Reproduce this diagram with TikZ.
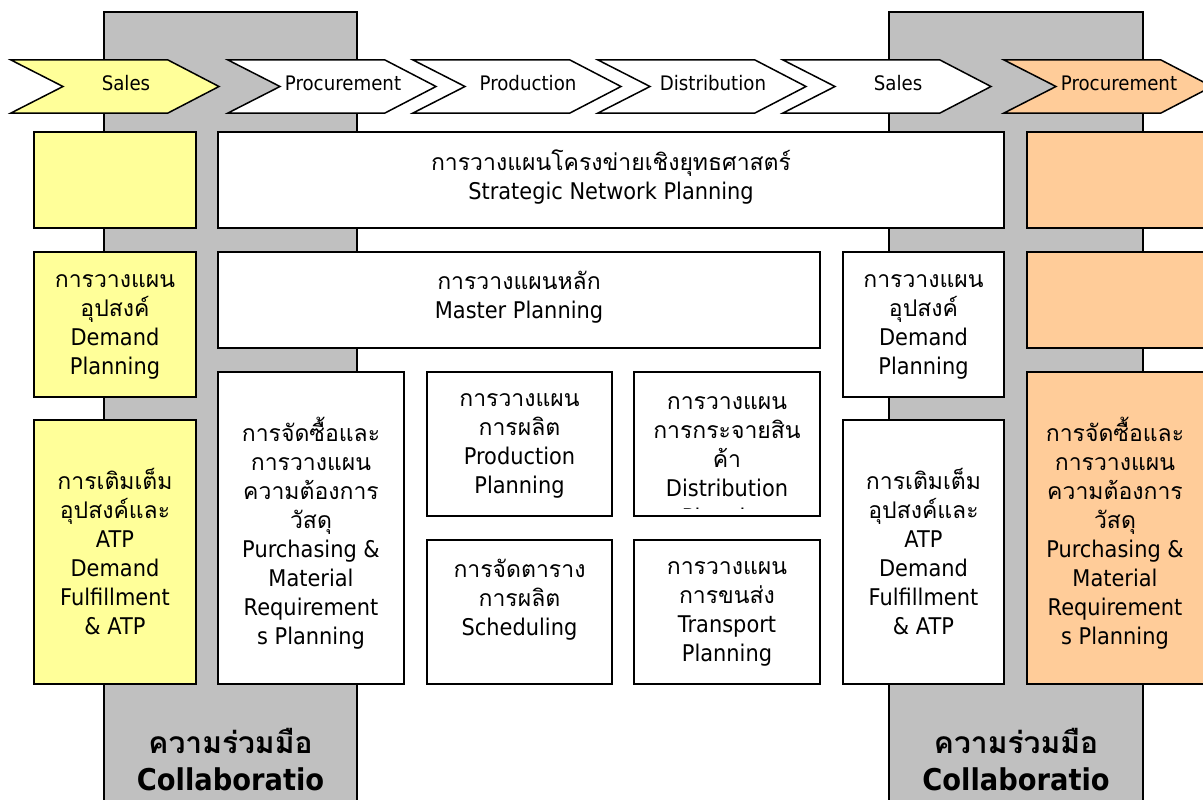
\documentclass[tikz,border=0pt]{standalone}
\usepackage{fontspec}
\setmainfont{DejaVu Sans}[FakeStretch=0.91]
\newfontfamily\thaifont[Script=Thai]{Loma}
\newcommand\thl[1]{{\thaifont #1}}
\newcommand\boxfont{\fontsize{23}{29}\selectfont\lineskiplimit=-30pt}
\newcommand\chevfont{\fontsize{20}{24}\selectfont}
\newcommand\collabfont{\fontsize{30}{37}\selectfont\bfseries\lineskiplimit=-30pt}
\definecolor{bandgray}{HTML}{C0C0C0}
\definecolor{salesyellow}{HTML}{FFFF99}
\definecolor{procorange}{HTML}{FFCC99}

% panel: name, left, top, right, bottom, fill
\newcommand\panel[6]{%
  \node[box, fill=#6, minimum width={#4-#2}, minimum height={#5-#3}] (#1) at (#2,#3) {};}
% chevron: name, left x, fill, label
\newcommand\chevron[4]{%
  \draw[chevline, fill=#3] (#2,60) -- ++(157,0) -- ++(51,26.5) -- ++(-51,26.5)
    -- ++(-157,0) -- ++(52,-26.5) -- cycle;
  \node[chevtext] (#1) at (#2+115,91) {#4};}

\begin{document}
\begin{tikzpicture}[x=1pt,y=-1pt,
  band/.style={draw=black, line width=1.5pt, fill=bandgray},
  box/.style={draw=black, line width=1.5pt, fill=white, inner sep=0pt,
    outer sep=0pt, anchor=north west},
  chevline/.style={draw=black, line width=1.5pt, line join=miter},
  chevtext/.style={font=\chevfont, anchor=base, inner sep=0pt},
  boxtext/.style={font=\boxfont, align=center, inner sep=0pt, yshift=-3pt},
  collab/.style={font=\collabfont, align=center, inner sep=0pt}]
\useasboundingbox (0,0) rectangle (1203,800);
\clip (0,0) rectangle (1203,800);
\fill[white] (0,0) rectangle (1203,800);

% collaboration bands
\draw[band] (104,12) rectangle (357,820);
\draw[band] (889,12) rectangle (1143,820);

% process chevrons
\chevron{sales1}{11}{salesyellow}{Sales}
\chevron{proc1}{228}{white}{Procurement}
\chevron{prod}{413}{white}{Production}
\chevron{dist}{598}{white}{Distribution}
\chevron{sales2}{783}{white}{Sales}
\chevron{proc2}{1004}{procorange}{Procurement}

% planning panels
\panel{ly1}{34}{132}{196}{228}{salesyellow}
\panel{snp}{218}{132}{1004}{228}{white}
\panel{ro1}{1027}{132}{1230}{228}{procorange}

\panel{ldp}{34}{252}{196}{397}{salesyellow}
\panel{mp}{218}{252}{820}{348}{white}
\panel{rdp}{843}{252}{1004}{397}{white}
\panel{ro2}{1027}{252}{1230}{348}{procorange}

\panel{ldf}{34}{420}{196}{684}{salesyellow}
\panel{pmr}{218}{372}{404}{684}{white}
\panel{pp}{427}{372}{612}{516}{white}
\panel{dp}{634}{372}{820}{516}{white}
\panel{sch}{427}{540}{612}{684}{white}
\panel{tp}{634}{540}{820}{684}{white}
\panel{rdf}{843}{420}{1004}{684}{white}
\panel{rpm}{1027}{372}{1230}{684}{procorange}

% panel texts
\node[boxtext] (snpt) at (611,174) {\thl{การวางแผนโครงข่ายเชิงยุทธศาสตร์}\\Strategic Network Planning};
\node[boxtext] (mpt) at (519,294) {\thl{การวางแผนหลัก}\\Master Planning};
\node[boxtext] (ldpt) at (115,324) {\thl{การวางแผน}\\\thl{อุปสงค์}\\Demand\\Planning};
\node[boxtext] (rdpt) at (923.5,324) {\thl{การวางแผน}\\\thl{อุปสงค์}\\Demand\\Planning};
\node[boxtext] (ldft) at (115,549) {\thl{การเติมเต็ม}\\\thl{อุปสงค์และ}\\ATP\\Demand\\Fulfillment\\\& ATP};
\node[boxtext] (rdft) at (923.5,549) {\thl{การเติมเต็ม}\\\thl{อุปสงค์และ}\\ATP\\Demand\\Fulfillment\\\& ATP};
\node[boxtext] (pmrt) at (311,530) {\thl{การจัดซื้อและ}\\\thl{การวางแผน}\\\thl{ความต้องการ}\\\thl{วัสดุ}\\Purchasing \&\\Material\\Requirement\\s Planning};
\node[boxtext] (rpmt) at (1115,530) {\thl{การจัดซื้อและ}\\\thl{การวางแผน}\\\thl{ความต้องการ}\\\thl{วัสดุ}\\Purchasing \&\\Material\\Requirement\\s Planning};
\node[boxtext] (ppt) at (519.5,443) {\thl{การวางแผน}\\\thl{การผลิต}\\Production\\Planning};
\begin{scope}
  \clip (634,372) rectangle (820,508);
  \node[boxtext] (dpt) at (727,460) {\thl{การวางแผน}\\\thl{การกระจายสิน}\\\thl{ค้า}\\Distribution\\Planning};
\end{scope}
\node[boxtext] (scht) at (519.5,597) {\thl{การจัดตาราง}\\\thl{การผลิต}\\Scheduling};
\node[boxtext] (tpt) at (727,611) {\thl{การวางแผน}\\\thl{การขนส่ง}\\Transport\\Planning};

% band captions
\node[collab] (lcol) at (230.5,760) {\thl{ความร่วมมือ}\\Collaboratio};
\node[collab] (rcol) at (1016,760) {\thl{ความร่วมมือ}\\Collaboratio};
\end{tikzpicture}
\end{document}
